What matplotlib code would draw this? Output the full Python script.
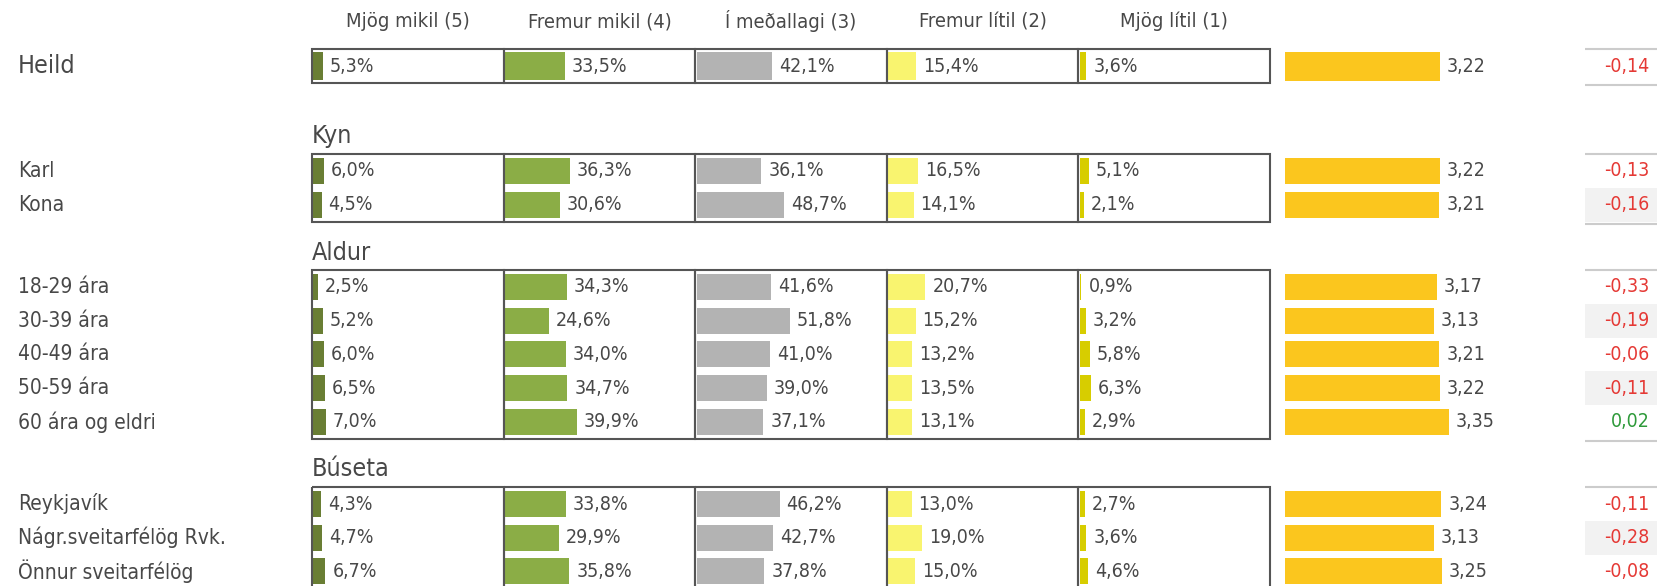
import matplotlib
matplotlib.use("Agg")
import matplotlib.pyplot as plt
from matplotlib.patches import Rectangle

# ---- data ---------------------------------------------------------------
row_labels = ["Heild", "Karl", "Kona", "18-29 ára", "30-39 ára", "40-49 ára",
              "50-59 ára", "60 ára og eldri", "Reykjavík",
              "Nágr.sveitarfélög Rvk.", "Önnur sveitarfélög"]
group_names = ["", "Kyn", "Aldur", "Búseta"]
group_sizes = [1, 2, 5, 3]

col_titles = ["Mjög mikil (5)", "Fremur mikil (4)", "Í meðallagi (3)",
              "Fremur lítil (2)", "Mjög lítil (1)"]
mjog_mikil = [5.3, 6.0, 4.5, 2.5, 5.2, 6.0, 6.5, 7.0, 4.3, 4.7, 6.7]
fremur_mikil = [33.5, 36.3, 30.6, 34.3, 24.6, 34.0, 34.7, 39.9, 33.8, 29.9, 35.8]
medallagi = [42.1, 36.1, 48.7, 41.6, 51.8, 41.0, 39.0, 37.1, 46.2, 42.7, 37.8]
fremur_litil = [15.4, 16.5, 14.1, 20.7, 15.2, 13.2, 13.5, 13.1, 13.0, 19.0, 15.0]
mjog_litil = [3.6, 5.1, 2.1, 0.9, 3.2, 5.8, 6.3, 2.9, 2.7, 3.6, 4.6]
means = [3.22, 3.22, 3.21, 3.17, 3.13, 3.21, 3.22, 3.35, 3.24, 3.13, 3.25]
diffs = [-0.14, -0.13, -0.16, -0.33, -0.19, -0.06, -0.11, 0.02, -0.11, -0.28, -0.08]

# ---- layout (pixels) ----------------------------------------------------
W, H = 1657, 586
group_first_y = [66, 171, 287, 504]
row_step = 33.7
box_left = 312
col_w = 191.6
mean_left, mean_w = 1285, 260
diff_left = 1585

col_colors = ["#697e34", "#8bad46", "#b3b3b3", "#f9f46f", "#d7cd00"]
txt = "#484848"
plt.rcParams["font.family"] = ["DejaVu Sans"]
plt.rcParams["font.stretch"] = "condensed"

# row y positions and group extents
row_y, groups = [], []
k = 0
for g0, n in zip(group_first_y, group_sizes):
    ys = [g0 + i * row_step for i in range(n)]
    row_y += ys
    groups.append((ys[0] - 17.5, ys[-1] + 17, k, n))
    k += n
bar_h = [28] + [26] * (len(row_y) - 1)


def fmt(v, nd):
    return f"{v:.{nd}f}".replace(".", ",")


fig = plt.figure(figsize=(W / 100, H / 100), dpi=100)


def add_ax(x0, w):
    ax = fig.add_axes([x0 / W, 0, w / W, 1])
    ax.set_ylim(H, 0)
    ax.axis("off")
    return ax


# percentage columns
series = [mjog_mikil, fremur_mikil, medallagi, fremur_litil, mjog_litil]
for j, (vals, color, title) in enumerate(zip(series, col_colors, col_titles)):
    ax = add_ax(box_left + j * col_w, col_w)
    ax.set_xlim(-0.8, 106)
    ax.barh(row_y, vals, height=bar_h, color=color, left=0)
    for v, y in zip(vals, row_y):
        ax.annotate(fmt(v, 1) + "%", (v, y), xytext=(5, 0), textcoords="offset points",
                    va="center", ha="left", fontsize=14, color=txt)
    for top, bot, _, _ in groups:
        ax.add_patch(Rectangle((-0.8, top), 106.8, bot - top, fill=False,
                               edgecolor="#555555", lw=1.5, clip_on=False, zorder=3))
    ax.text(52.6, 21.5, title, ha="center", va="center", fontsize=14.5, color=txt)

# mean column
ax = add_ax(mean_left, mean_w)
ax.set_xlim(0.94, 0.94 + mean_w / 68)
ax.barh(row_y, means, height=[29] + [26] * (len(row_y) - 1), color="#fbc61e")
for v, y in zip(means, row_y):
    ax.annotate(fmt(v, 2), (v, y), xytext=(5, 0), textcoords="offset points",
                va="center", ha="left", fontsize=14, color=txt)

# difference column
ax = add_ax(diff_left, W - diff_left)
ax.set_xlim(0, 1)
for top, bot, k0, n in groups:
    for i in range(1, n, 2):
        y = row_y[k0 + i]
        ax.axhspan(y - row_step / 2, y + row_step / 2, color="#f2f2f2", lw=0)
    ax.axhline(top, color="#cccccc", lw=1.5)
    ax.axhline(bot + 2, color="#cccccc", lw=1.5)
for v, y in zip(diffs, row_y):
    ax.text(0.9, y, fmt(v, 2), ha="right", va="center", fontsize=14,
            color="#e53935" if v < 0 else "#2e9a3a")

# row labels and group headers
for i, (lab, y) in enumerate(zip(row_labels, row_y)):
    fig.text(18 / W, 1 - y / H, lab, ha="left", va="center",
             fontsize=18 if i == 0 else 15, color=txt)
for name, (top, _, _, _) in zip(group_names, groups):
    if name:
        fig.text(box_left / W, 1 - (top - 17) / H, name, ha="left", va="center",
                 fontsize=18, color=txt)

fig.savefig("out.png", dpi=100)
